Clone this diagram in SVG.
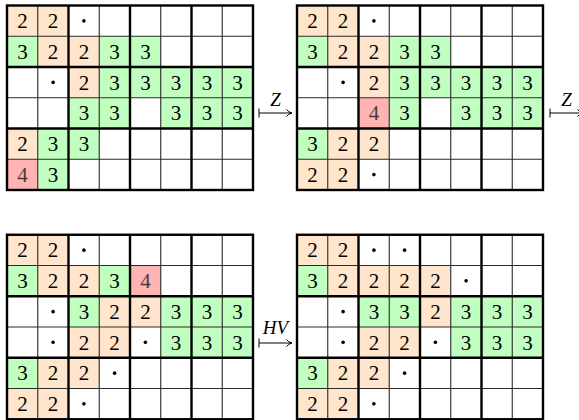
<svg xmlns="http://www.w3.org/2000/svg" width="579" height="420" viewBox="0 0 579 420">
<defs>
<style>
.o{fill:#FFE5CC}.g{fill:#C0FFC0}.r{fill:#FFB3B3}
.t{font-family:"Liberation Serif","Times New Roman",serif;font-size:21px;text-anchor:middle;fill:#000}
.t4{fill:#4a3a3a}
.thin{stroke:#2a2a2a;stroke-width:1.1;fill:none}
.thick{stroke:#000;stroke-width:2.4;fill:none}
.lbl{font-family:"Liberation Serif","Times New Roman",serif;font-style:italic;font-size:19px;text-anchor:middle;fill:#000}
.arr{stroke:#000;stroke-width:1;fill:none}
</style>
<g id="lines">
<path class="thin" d="M30.75 0V184.5M92.25 0V184.5M153.75 0V184.5M215.25 0V184.5M0 30.75H246M0 92.25H246M0 153.75H246"/>
<path class="thick" d="M61.5 0V184.5M123 0V184.5M184.5 0V184.5M0 61.5H246M0 123H246"/>
<rect class="thick" x="0" y="0" width="246" height="184.5"/>
</g>
</defs>

<g id="grid1" transform="translate(7,5.5)">
<rect class="o" x="0" y="0" width="30.75" height="30.75"/>
<rect class="o" x="30.75" y="0" width="30.75" height="30.75"/>
<rect class="g" x="0" y="30.75" width="30.75" height="30.75"/>
<rect class="o" x="30.75" y="30.75" width="30.75" height="30.75"/>
<rect class="o" x="61.5" y="30.75" width="30.75" height="30.75"/>
<rect class="g" x="92.25" y="30.75" width="61.5" height="30.75"/>
<rect class="o" x="61.5" y="61.5" width="30.75" height="30.75"/>
<rect class="g" x="92.25" y="61.5" width="153.75" height="30.75"/>
<rect class="g" x="61.5" y="92.25" width="61.5" height="30.75"/>
<rect class="g" x="153.75" y="92.25" width="92.25" height="30.75"/>
<rect class="o" x="0" y="123" width="30.75" height="30.75"/>
<rect class="g" x="30.75" y="123" width="61.5" height="30.75"/>
<rect class="r" x="0" y="153.75" width="30.75" height="30.75"/>
<rect class="g" x="30.75" y="153.75" width="30.75" height="30.75"/>
<use href="#lines"/>
<text class="t" x="15.4" y="22.7">2</text><text class="t" x="46.1" y="22.7">2</text>
<circle cx="76.9" cy="15.4" r="1.8"/>
<text class="t" x="15.4" y="53.4">3</text><text class="t" x="46.1" y="53.4">2</text><text class="t" x="76.9" y="53.4">2</text><text class="t" x="107.6" y="53.4">3</text><text class="t" x="138.4" y="53.4">3</text>
<circle cx="46.1" cy="76.9" r="1.8"/>
<text class="t" x="76.9" y="84.2">2</text><text class="t" x="107.6" y="84.2">3</text><text class="t" x="138.4" y="84.2">3</text><text class="t" x="169.1" y="84.2">3</text><text class="t" x="199.9" y="84.2">3</text><text class="t" x="230.6" y="84.2">3</text>
<text class="t" x="76.9" y="114.9">3</text><text class="t" x="107.6" y="114.9">3</text><text class="t" x="169.1" y="114.9">3</text><text class="t" x="199.9" y="114.9">3</text><text class="t" x="230.6" y="114.9">3</text>
<text class="t" x="15.4" y="145.7">2</text><text class="t" x="46.1" y="145.7">3</text><text class="t" x="76.9" y="145.7">3</text>
<text class="t t4" x="15.4" y="176.4">4</text><text class="t" x="46.1" y="176.4">3</text>
</g>

<g id="grid2" transform="translate(297,5.5)">
<rect class="o" x="0" y="0" width="30.75" height="30.75"/>
<rect class="o" x="30.75" y="0" width="30.75" height="30.75"/>
<rect class="g" x="0" y="30.75" width="30.75" height="30.75"/>
<rect class="o" x="30.75" y="30.75" width="61.5" height="30.75"/>
<rect class="g" x="92.25" y="30.75" width="61.5" height="30.75"/>
<rect class="o" x="61.5" y="61.5" width="30.75" height="30.75"/>
<rect class="g" x="92.25" y="61.5" width="153.75" height="30.75"/>
<rect class="r" x="61.5" y="92.25" width="30.75" height="30.75"/>
<rect class="g" x="92.25" y="92.25" width="30.75" height="30.75"/>
<rect class="g" x="153.75" y="92.25" width="92.25" height="30.75"/>
<rect class="g" x="0" y="123" width="30.75" height="30.75"/>
<rect class="o" x="30.75" y="123" width="61.5" height="30.75"/>
<rect class="o" x="0" y="153.75" width="61.5" height="30.75"/>
<use href="#lines"/>
<text class="t" x="15.4" y="22.7">2</text><text class="t" x="46.1" y="22.7">2</text>
<circle cx="76.9" cy="15.4" r="1.8"/>
<text class="t" x="15.4" y="53.4">3</text><text class="t" x="46.1" y="53.4">2</text><text class="t" x="76.9" y="53.4">2</text><text class="t" x="107.6" y="53.4">3</text><text class="t" x="138.4" y="53.4">3</text>
<circle cx="46.1" cy="76.9" r="1.8"/>
<text class="t" x="76.9" y="84.2">2</text><text class="t" x="107.6" y="84.2">3</text><text class="t" x="138.4" y="84.2">3</text><text class="t" x="169.1" y="84.2">3</text><text class="t" x="199.9" y="84.2">3</text><text class="t" x="230.6" y="84.2">3</text>
<text class="t t4" x="76.9" y="114.9">4</text><text class="t" x="107.6" y="114.9">3</text><text class="t" x="169.1" y="114.9">3</text><text class="t" x="199.9" y="114.9">3</text><text class="t" x="230.6" y="114.9">3</text>
<text class="t" x="15.4" y="145.7">3</text><text class="t" x="46.1" y="145.7">2</text><text class="t" x="76.9" y="145.7">2</text>
<text class="t" x="15.4" y="176.4">2</text><text class="t" x="46.1" y="176.4">2</text>
<circle cx="76.9" cy="169.1" r="1.8"/>
</g>

<g id="grid3" transform="translate(7,234.75)">
<rect class="o" x="0" y="0" width="61.5" height="30.75"/>
<rect class="g" x="0" y="30.75" width="30.75" height="30.75"/>
<rect class="o" x="30.75" y="30.75" width="61.5" height="30.75"/>
<rect class="g" x="92.25" y="30.75" width="30.75" height="30.75"/>
<rect class="r" x="123" y="30.75" width="30.75" height="30.75"/>
<rect class="g" x="61.5" y="61.5" width="30.75" height="30.75"/>
<rect class="o" x="92.25" y="61.5" width="61.5" height="30.75"/>
<rect class="g" x="153.75" y="61.5" width="92.25" height="30.75"/>
<rect class="o" x="61.5" y="92.25" width="61.5" height="30.75"/>
<rect class="g" x="153.75" y="92.25" width="92.25" height="30.75"/>
<rect class="g" x="0" y="123" width="30.75" height="30.75"/>
<rect class="o" x="30.75" y="123" width="61.5" height="30.75"/>
<rect class="o" x="0" y="153.75" width="61.5" height="30.75"/>
<use href="#lines"/>
<text class="t" x="15.4" y="22.7">2</text><text class="t" x="46.1" y="22.7">2</text>
<circle cx="76.9" cy="15.4" r="1.8"/>
<text class="t" x="15.4" y="53.4">3</text><text class="t" x="46.1" y="53.4">2</text><text class="t" x="76.9" y="53.4">2</text><text class="t" x="107.6" y="53.4">3</text><text class="t t4" x="138.4" y="53.4">4</text>
<circle cx="46.1" cy="76.9" r="1.8"/>
<text class="t" x="76.9" y="84.2">3</text><text class="t" x="107.6" y="84.2">2</text><text class="t" x="138.4" y="84.2">2</text><text class="t" x="169.1" y="84.2">3</text><text class="t" x="199.9" y="84.2">3</text><text class="t" x="230.6" y="84.2">3</text>
<circle cx="46.1" cy="107.6" r="1.8"/>
<text class="t" x="76.9" y="114.9">2</text><text class="t" x="107.6" y="114.9">2</text>
<circle cx="138.4" cy="107.6" r="1.8"/>
<text class="t" x="169.1" y="114.9">3</text><text class="t" x="199.9" y="114.9">3</text><text class="t" x="230.6" y="114.9">3</text>
<text class="t" x="15.4" y="145.7">3</text><text class="t" x="46.1" y="145.7">2</text><text class="t" x="76.9" y="145.7">2</text>
<circle cx="107.6" cy="138.4" r="1.8"/>
<text class="t" x="15.4" y="176.4">2</text><text class="t" x="46.1" y="176.4">2</text>
<circle cx="76.9" cy="169.1" r="1.8"/>
</g>

<g id="grid4" transform="translate(297,234.75)">
<rect class="o" x="0" y="0" width="61.5" height="30.75"/>
<rect class="g" x="0" y="30.75" width="30.75" height="30.75"/>
<rect class="o" x="30.75" y="30.75" width="123" height="30.75"/>
<rect class="g" x="61.5" y="61.5" width="61.5" height="30.75"/>
<rect class="o" x="123" y="61.5" width="30.75" height="30.75"/>
<rect class="g" x="153.75" y="61.5" width="92.25" height="30.75"/>
<rect class="o" x="61.5" y="92.25" width="61.5" height="30.75"/>
<rect class="g" x="153.75" y="92.25" width="92.25" height="30.75"/>
<rect class="g" x="0" y="123" width="30.75" height="30.75"/>
<rect class="o" x="30.75" y="123" width="61.5" height="30.75"/>
<rect class="o" x="0" y="153.75" width="61.5" height="30.75"/>
<use href="#lines"/>
<text class="t" x="15.4" y="22.7">2</text><text class="t" x="46.1" y="22.7">2</text>
<circle cx="76.9" cy="15.4" r="1.8"/><circle cx="107.6" cy="15.4" r="1.8"/>
<text class="t" x="15.4" y="53.4">3</text><text class="t" x="46.1" y="53.4">2</text><text class="t" x="76.9" y="53.4">2</text><text class="t" x="107.6" y="53.4">2</text><text class="t" x="138.4" y="53.4">2</text>
<circle cx="169.1" cy="46.1" r="1.8"/>
<circle cx="46.1" cy="76.9" r="1.8"/>
<text class="t" x="76.9" y="84.2">3</text><text class="t" x="107.6" y="84.2">3</text><text class="t" x="138.4" y="84.2">2</text><text class="t" x="169.1" y="84.2">3</text><text class="t" x="199.9" y="84.2">3</text><text class="t" x="230.6" y="84.2">3</text>
<circle cx="46.1" cy="107.6" r="1.8"/>
<text class="t" x="76.9" y="114.9">2</text><text class="t" x="107.6" y="114.9">2</text>
<circle cx="138.4" cy="107.6" r="1.8"/>
<text class="t" x="169.1" y="114.9">3</text><text class="t" x="199.9" y="114.9">3</text><text class="t" x="230.6" y="114.9">3</text>
<text class="t" x="15.4" y="145.7">3</text><text class="t" x="46.1" y="145.7">2</text><text class="t" x="76.9" y="145.7">2</text>
<circle cx="107.6" cy="138.4" r="1.8"/>
<text class="t" x="15.4" y="176.4">2</text><text class="t" x="46.1" y="176.4">2</text>
<circle cx="76.9" cy="169.1" r="1.8"/>
</g>

<g id="connectors">
<path class="arr" d="M259 108.5V117.5M259 113H291.5M286.5 109.5Q288.5 112.3 292 113Q288.5 113.7 286.5 116.5"/>
<text class="lbl" x="275.5" y="106">Z</text>
<path class="arr" d="M550 108.5V117.5M550 113H582.5M577.5 109.5Q579.5 112.3 583 113Q579.5 113.7 577.5 116.5"/>
<text class="lbl" x="566.5" y="106">Z</text>
<path class="arr" d="M259 338.5V347.5M259 343H291.5M286.5 339.5Q288.5 342.3 292 343Q288.5 343.7 286.5 346.5"/>
<text class="lbl" x="275.5" y="334">HV</text>
</g>
</svg>
